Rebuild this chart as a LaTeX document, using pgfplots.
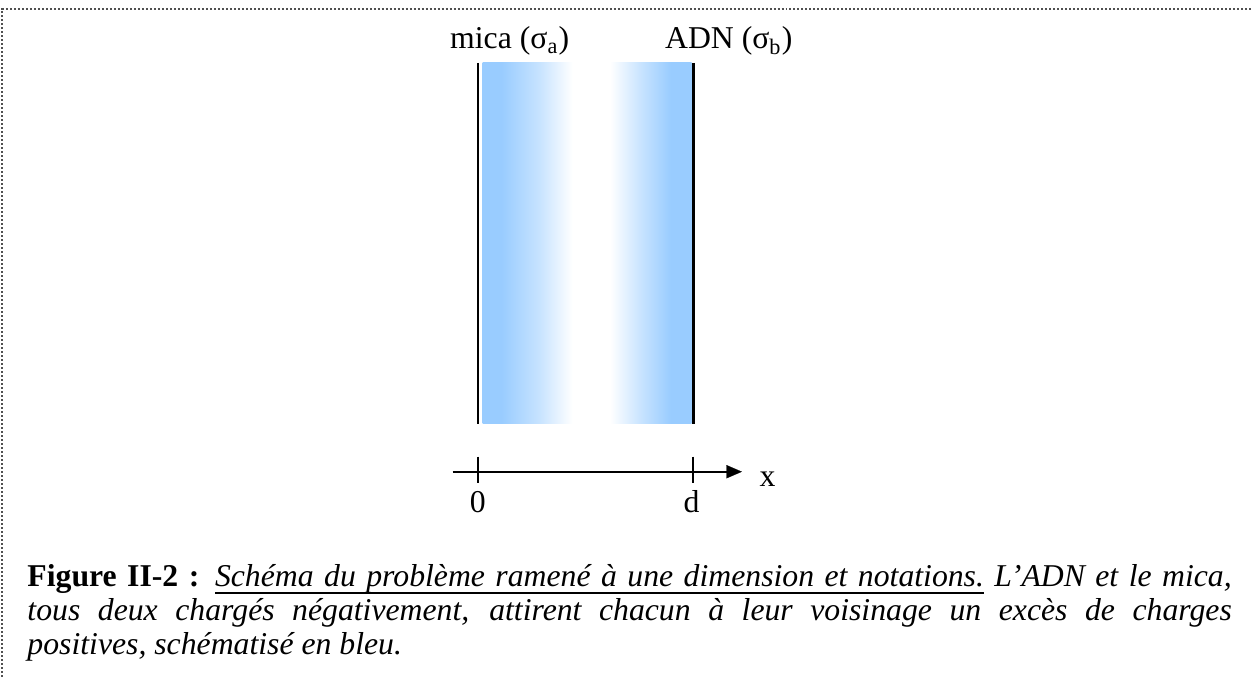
\documentclass[border=0pt]{standalone}
\usepackage{fontspec}
\setmainfont{Liberation Serif}
\usepackage{pgfplots}
\pgfplotsset{compat=1.18}
\definecolor{bandblue}{HTML}{99CCFF}
\definecolor{framegray}{HTML}{505050}
\pgfdeclarehorizontalshading{bandshade}{100bp}{%
  color(0bp)=(bandblue); color(29.5bp)=(bandblue); color(38.5bp)=(bandblue!55!white);
  color(46.5bp)=(white); color(55.5bp)=(white); color(63bp)=(bandblue!55!white);
  color(70bp)=(bandblue); color(100bp)=(bandblue)}
\newcommand{\capfont}{\fontsize{12.7}{15}\selectfont}
\newsavebox{\ulbox}
\newcommand{\ulw}[1]{\leavevmode\sbox{\ulbox}{#1}\rlap{\rule[-2.9pt]{\wd\ulbox}{0.7pt}}\usebox{\ulbox}}
\newcommand{\uls}{\leaders\hrule depth 2.9pt height -2.2pt\hskip\fontdimen2\font plus\fontdimen3\font minus\fontdimen4\font\relax}
\begin{document}
\begin{tikzpicture}
\begin{axis}[scale only axis, width=500.8pt, height=270.8pt,
  xmin=0, xmax=1252, ymin=0, ymax=677, y dir=reverse,
  hide axis, clip=false]
\addplot[draw=none] coordinates {(0,0) (1252,677)};
% dotted frame
\addplot[framegray, line width=0.6pt, dash pattern=on 0.8pt off 0.8pt] coordinates {(2,677) (2,9) (1252,9)};
% shaded band
\addplot[draw=none, shading=bandshade] coordinates {(483,63) (692,63) (692,424) (483,424)} -- cycle;
% plates
\addplot[black, line width=0.9pt] coordinates {(478,63) (478,424)};
\addplot[black, line width=0.9pt] coordinates {(694,63) (694,424)};
% x axis
\addplot[black, line width=0.8pt] coordinates {(453,472) (730,472)};
\addplot[black, fill=black, line width=0.1pt] coordinates {(727,465.5) (742,472) (727,478.5)} -- cycle;
\addplot[black, line width=0.8pt] coordinates {(478,457) (478,483)};
\addplot[black, line width=0.8pt] coordinates {(693,457) (693,483)};
% labels
\node[anchor=base west, inner sep=0, font=\capfont] at (axis cs:450,49) {mica (σ\textsubscript{a})};
\node[anchor=base west, inner sep=0, font=\capfont] at (axis cs:665,49) {ADN (σ\textsubscript{b})};
\node[anchor=base, inner sep=0, font=\capfont] at (axis cs:478,513) {0};
\node[anchor=base, inner sep=0, font=\capfont] at (axis cs:692,513) {d};
\node[anchor=base, inner sep=0, font=\capfont] at (axis cs:768,487) {x};
% caption
\node[anchor=base west, inner sep=0, font=\capfont] at (axis cs:27,587)
  {\makebox[482pt][s]{\textbf{Figure II-2 :} \itshape\ulw{Schéma}\uls\ulw{du}\uls\ulw{problème}\uls\ulw{ramené}\uls\ulw{à}\uls\ulw{une}\uls\ulw{dimension}\uls\ulw{et}\uls\ulw{notations.}\ L'ADN et le mica,}};
\node[anchor=base west, inner sep=0, font=\capfont\itshape] at (axis cs:27,621)
  {\makebox[482pt][s]{tous deux chargés négativement, attirent chacun à leur voisinage un excès de charges}};
\node[anchor=base west, inner sep=0, font=\capfont\itshape] at (axis cs:27,655)
  {positives, schématisé en bleu.};
\end{axis}
\end{tikzpicture}
\end{document}
